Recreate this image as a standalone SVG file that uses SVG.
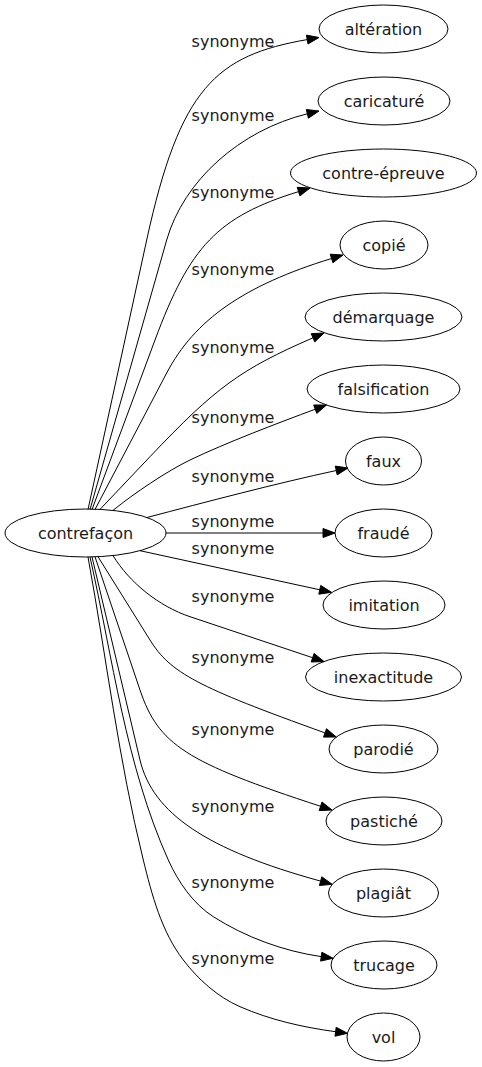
<svg xmlns="http://www.w3.org/2000/svg" width="482" height="1067" viewBox="0 0 482 1067">
<style>
.bg{fill:#fff}
.node ellipse{fill:none;stroke:#000;stroke-width:1}
.edge path{fill:none;stroke:#000;stroke-width:1}
.edge polygon{fill:#000;stroke:#000;stroke-width:1}
text{font-family:"DejaVu Sans","Liberation Sans",sans-serif;font-size:16px;text-anchor:middle;fill:#1a1a1a}
</style>
<rect class="bg" x="0" y="0" width="482" height="1067"/>
<g id="edges" class="edge">
<path d="M88,509.5 L146.7,240 C179.9,87.6 216.1,55.4 307.2,39.6"/>
<polygon points="319,37.5 308,44 306.4,35.1"/>
<text x="233" y="47">synonyme</text>
<path d="M90,509.5 L166.7,240 C183.6,180.8 239.8,130.3 307.3,113.8"/>
<polygon points="319,111 308.4,118.2 306.3,109.5"/>
<text x="233" y="121">synonyme</text>
<path d="M92,509.5 L155,340 C189.8,246.3 217.6,216.7 298.6,191.6"/>
<polygon points="310,188 299.9,195.9 297.2,187.3"/>
<text x="233" y="198">synonyme</text>
<path d="M95,509.5 L166.7,373 C194.6,319.8 244,285.4 331.5,258.5"/>
<polygon points="343,255 332.9,262.8 330.2,254.2"/>
<text x="233" y="275">synonyme</text>
<path d="M100,509.4 L150,456.7 C215.9,387.2 240.4,369.4 313,337.8"/>
<polygon points="324,333 314.8,341.9 311.2,333.7"/>
<text x="233" y="353">synonyme</text>
<path d="M113,510.4 C133,494 167.5,470.8 190,460 C226.1,442.7 277.8,423.1 315.3,409.2"/>
<polygon points="326.5,405 316.8,413.4 313.7,405"/>
<text x="233" y="423">synonyme</text>
<path d="M147,517.5 C205,502.2 277.6,483.1 336.3,470.5"/>
<polygon points="348,468 337.2,474.9 335.3,466.1"/>
<text x="233" y="482">synonyme</text>
<path d="M166,533 L323,533"/>
<polygon points="335,533 323,528.5 323,537.5"/>
<text x="233" y="527">synonyme</text>
<path d="M140,550.7 L319.8,589.8"/>
<polygon points="331.5,592.3 318.8,594.2 320.7,585.4"/>
<text x="233" y="554">synonyme</text>
<path d="M113,555.6 C129.5,582.5 158.7,606.2 190,616.7 L312.6,657.7"/>
<polygon points="324,661.5 311.2,662 314.1,653.4"/>
<text x="233" y="602">synonyme</text>
<path d="M98,556.7 L150,640 C170.5,672.9 196.7,686.8 325,732.9"/>
<polygon points="336.3,737 323.5,737.1 326.5,728.7"/>
<text x="233" y="662.5">synonyme</text>
<path d="M95,556.8 L140,690 C158.5,744.8 185.6,762.2 320.6,806.3"/>
<polygon points="332,810 319.2,810.6 322,802"/>
<text x="233" y="734.5">synonyme</text>
<path d="M92,556.9 L140,760 C152.7,813.5 206.8,849.9 320.6,881.1"/>
<polygon points="332.2,884.3 319.4,885.5 321.8,876.8"/>
<text x="233" y="811.5">synonyme</text>
<path d="M90,557 C112.9,658.5 125.7,765.4 168.3,860 C178.1,881.8 193.1,903.8 213.3,916.7 C245.3,937.1 283.6,951.2 321.2,956.6"/>
<polygon points="333.1,958.3 320.6,961.1 321.9,952.2"/>
<text x="233" y="888">synonyme</text>
<path d="M88,557 C106.5,658.4 118.6,760.1 143.3,860 C151.9,894.9 161.4,931.4 183.3,960 C198.2,979.4 217.5,996.9 240,1006.7 C270.3,1019.9 302.9,1027.3 335.6,1031.7"/>
<polygon points="347.5,1033.3 335,1036.2 336.2,1027.3"/>
<text x="233" y="963.5">synonyme</text>
</g>
<g id="contrefacon" class="node"><ellipse cx="85.5" cy="533" rx="80.5" ry="24"/><text x="85.5" y="538.5">contrefaçon</text></g>
<g id="alteration" class="node"><ellipse cx="383.5" cy="29" rx="64.5" ry="24"/><text x="383.5" y="34.5">altération</text></g>
<g id="caricature" class="node"><ellipse cx="384" cy="101" rx="66" ry="24"/><text x="384" y="106.5">caricaturé</text></g>
<g id="contre-epreuve" class="node"><ellipse cx="383.5" cy="173" rx="93" ry="24"/><text x="383.5" y="178.5">contre-épreuve</text></g>
<g id="copie" class="node"><ellipse cx="384" cy="245" rx="44" ry="24"/><text x="384" y="250.5">copié</text></g>
<g id="demarquage" class="node"><ellipse cx="383.5" cy="317" rx="78.5" ry="24"/><text x="383.5" y="322.5">démarquage</text></g>
<g id="falsification" class="node"><ellipse cx="383.5" cy="389" rx="76.5" ry="24"/><text x="383.5" y="394.5">falsification</text></g>
<g id="faux" class="node"><ellipse cx="383.5" cy="461" rx="38" ry="24"/><text x="383.5" y="466.5">faux</text></g>
<g id="fraude" class="node"><ellipse cx="383.5" cy="533" rx="48.5" ry="24"/><text x="383.5" y="538.5">fraudé</text></g>
<g id="imitation" class="node"><ellipse cx="384" cy="605" rx="61" ry="24"/><text x="384" y="610.5">imitation</text></g>
<g id="inexactitude" class="node"><ellipse cx="383.5" cy="677" rx="78" ry="24"/><text x="383.5" y="682.5">inexactitude</text></g>
<g id="parodie" class="node"><ellipse cx="383.5" cy="749" rx="54.5" ry="24"/><text x="383.5" y="754.5">parodié</text></g>
<g id="pastiche" class="node"><ellipse cx="384" cy="821" rx="58" ry="24"/><text x="384" y="826.5">pastiché</text></g>
<g id="plagiat" class="node"><ellipse cx="383.5" cy="893" rx="55" ry="24"/><text x="383.5" y="898.5">plagiât</text></g>
<g id="trucage" class="node"><ellipse cx="384" cy="965" rx="53" ry="24"/><text x="384" y="970.5">trucage</text></g>
<g id="vol" class="node"><ellipse cx="383.5" cy="1037" rx="36.5" ry="24"/><text x="383.5" y="1042.5">vol</text></g>
</svg>
